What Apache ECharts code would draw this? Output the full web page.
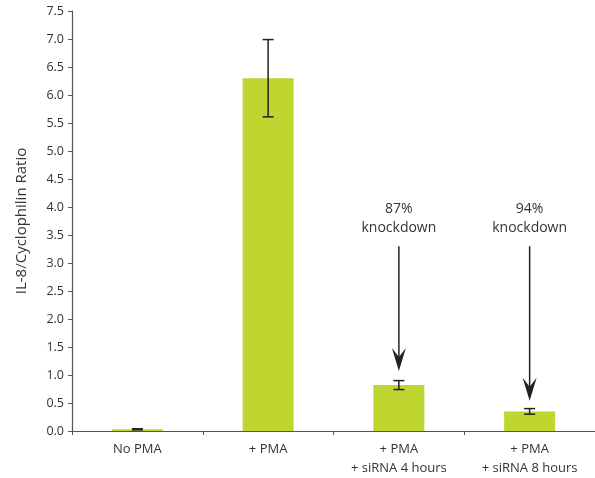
<!DOCTYPE html>
<html><head><meta charset="utf-8">
<script src="https://cdn.jsdelivr.net/npm/echarts@6/dist/echarts.min.js"></script>
<style>html,body{margin:0;padding:0;background:#fff}#c{width:595px;height:478px}</style>
</head><body><div id="c"></div>
<script>
const categories = ['No PMA', '+ PMA', '+ PMA\n+ siRNA 4 hours', '+ PMA\n+ siRNA 8 hours'];
const ratios = [0.03, 6.3, 0.82, 0.35];
const errors = [0.01, 0.69, 0.08, 0.05];
const yTicks = [0, 7.5, 0.5];
const annotCats = [2, 3];
const annotText = ['87%\nknockdown', '94%\nknockdown'];
const arrowStart = [3.3, 3.3];
const arrowTip = [1.07, 0.54];

const font = 'Open Sans, Noto Sans, sans-serif';
const chart = echarts.init(document.getElementById('c'));
const errData = categories.map((c, i) => [i, ratios[i] - errors[i], ratios[i] + errors[i]]);
const arrowData = annotCats.map((c, i) => [c, arrowStart[i], arrowTip[i], annotText[i]]);

chart.setOption({
  animation: false,
  grid: { left: 72, right: -1, top: 11, bottom: 46 },
  xAxis: {
    type: 'category', data: categories,
    axisLine: { lineStyle: { color: '#555', width: 1.2 } },
    axisTick: { show: true, length: 4, lineStyle: { color: '#555' } },
    axisLabel: { color: '#333', fontFamily: font, fontSize: 13, margin: 9, lineHeight: 19 }
  },
  yAxis: {
    type: 'value', min: yTicks[0], max: yTicks[1], interval: yTicks[2],
    name: 'IL-8/Cyclophilin Ratio', nameLocation: 'middle', nameGap: 43,
    nameTextStyle: { color: '#333', fontFamily: font, fontSize: 15 },
    axisLine: { show: true, lineStyle: { color: '#555', width: 1.2 } },
    axisTick: { show: true, length: 4, lineStyle: { color: '#555' } },
    splitLine: { show: false },
    axisLabel: { color: '#333', fontFamily: font, fontSize: 12.5, margin: 8, formatter: v => v.toFixed(1) }
  },
  series: [
    {
      type: 'bar', data: ratios, barWidth: '39%',
      itemStyle: { color: '#bed62f' }
    },
    {
      type: 'custom', data: errData, z: 5,
      renderItem: (params, api) => {
        const lo = api.coord([api.value(0), api.value(1)]);
        const hi = api.coord([api.value(0), api.value(2)]);
        const w = 5.5;
        const st = { stroke: '#222', lineWidth: 1.5 };
        return { type: 'group', children: [
          { type: 'line', shape: { x1: lo[0], y1: lo[1], x2: hi[0], y2: hi[1] }, style: st },
          { type: 'line', shape: { x1: lo[0] - w, y1: lo[1], x2: lo[0] + w, y2: lo[1] }, style: st },
          { type: 'line', shape: { x1: hi[0] - w, y1: hi[1], x2: hi[0] + w, y2: hi[1] }, style: st }
        ] };
      }
    },
    {
      type: 'custom', data: arrowData, z: 6,
      renderItem: (params, api) => {
        const s = api.coord([api.value(0), api.value(1)]);
        const t = api.coord([api.value(0), api.value(2)]);
        const txt = annotText[params.dataIndex];
        const x = t[0], ty = t[1];
        return { type: 'group', children: [
          { type: 'line', shape: { x1: x, y1: s[1], x2: x, y2: ty - 12 }, style: { stroke: '#222', lineWidth: 1.5 } },
          { type: 'polygon', shape: { points: [[x, ty], [x - 7, ty - 23], [x, ty - 14], [x + 7, ty - 23]] }, style: { fill: '#222' } },
          { type: 'text', x: x, y: s[1] - 9, style: { text: txt, fill: '#333', font: '14px ' + font, align: 'center', verticalAlign: 'bottom', lineHeight: 19 } }
        ] };
      }
    }
  ]
});
</script></body></html>
